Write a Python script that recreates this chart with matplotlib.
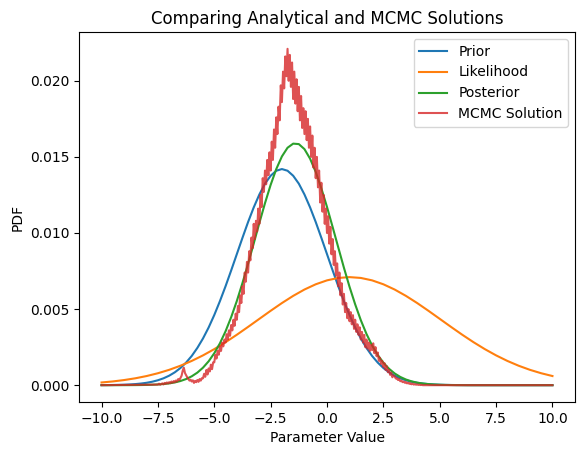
import numpy as np
import matplotlib.pyplot as plt

# analytical curves every 0.25 (prior, posterior) / 0.5 (likelihood)
x_fine = np.linspace(-10, 10, 81)
x_coarse = np.linspace(-10, 10, 41)

prior = [0.0000048, 0.0000078, 0.0000126, 0.0000199, 0.0000311, 0.0000477, 0.0000723,
         0.000108, 0.000158, 0.000228, 0.000324, 0.000453, 0.000624, 0.000846,
         0.00113, 0.001485, 0.00192, 0.00245, 0.00307, 0.00379, 0.00461, 0.00552,
         0.00650, 0.00754, 0.00861, 0.00968, 0.01072, 0.01168, 0.01253, 0.01324,
         0.01376, 0.01409, 0.0142,
         0.01409, 0.01376, 0.01324, 0.01253, 0.01168, 0.01072, 0.00968, 0.00861,
         0.00754, 0.00650, 0.00552, 0.00461, 0.00379, 0.00307, 0.00245, 0.00192,
         0.001485, 0.00113, 0.000846, 0.000624, 0.000453, 0.000324, 0.000228,
         0.000158, 0.000108, 0.0000723, 0.0000477, 0.0000311, 0.0000199, 0.0000126,
         0.0000078, 0.0000048,
         0.000003, 0.0000017, 0.000001, 0.0000005, 0.0, 0.0, 0.0, 0.0, 0.0, 0.0,
         0.0, 0.0, 0.0, 0.0, 0.0, 0.0]

likelihood = [0.000178, 0.000246, 0.000337, 0.000453, 0.000601, 0.000785, 0.001009,
              0.001278, 0.001594, 0.001958, 0.002369, 0.002823, 0.003313, 0.003830,
              0.004359, 0.004887, 0.005396, 0.005868, 0.006285, 0.006629, 0.006887,
              0.007046, 0.0071, 0.007046, 0.006887, 0.006629, 0.006285, 0.005868,
              0.005396, 0.004887, 0.004359, 0.003830, 0.003313, 0.002823, 0.002369,
              0.001958, 0.001594, 0.001278, 0.001009, 0.000785, 0.000601]

posterior = [0.0, 0.0000003, 0.0000006, 0.0000011, 0.0000019, 0.0000034, 0.000006,
             0.0000104, 0.0000176, 0.0000292, 0.0000475, 0.0000757, 0.000118,
             0.000182, 0.000273, 0.000403, 0.000583, 0.000826, 0.00115, 0.00157,
             0.00210, 0.00275, 0.00354, 0.00447, 0.00553, 0.00671, 0.00798, 0.00931,
             0.01066, 0.01196, 0.01316, 0.01420, 0.01503, 0.01560, 0.01587, 0.01584,
             0.01551, 0.01488, 0.01401, 0.01293, 0.01171, 0.01039, 0.00905, 0.00772,
             0.00646, 0.00531, 0.00427, 0.00337, 0.00261, 0.00198, 0.00148, 0.00108,
             0.000772, 0.000542, 0.000373, 0.000252, 0.000167, 0.000108, 0.000069,
             0.0000431, 0.0000264, 0.0000159, 0.0000094, 0.0000054, 0.0000031,
             0.0, 0.0, 0.0, 0.0, 0.0, 0.0, 0.0, 0.0, 0.0, 0.0, 0.0, 0.0, 0.0, 0.0,
             0.0, 0.0]

# MCMC line, every 0.05 from -7.5 to 4.3 (zero outside that)
mcmc_core_x = np.linspace(-7.5, 4.3, 237)
mcmc_core = [
    0.00004, 0.00010, 0.00003, 0.00008, 0.00012, 0.00005, 0.00015, 0.00009, 0.00018, 0.00011,
    0.00020, 0.00013, 0.00024, 0.00016, 0.00027, 0.00019, 0.00031, 0.00024, 0.00040, 0.00033,
    0.00048, 0.00062, 0.00095, 0.00115, 0.00080, 0.00066, 0.00052, 0.00041, 0.00030, 0.00036,
    0.00024, 0.00032, 0.00015, 0.00028, 0.00020, 0.00034, 0.00022, 0.00040, 0.00030, 0.00046,
    0.00045, 0.00075, 0.00055, 0.00100, 0.00070, 0.00110, 0.00090, 0.00135, 0.00105, 0.00150,
    0.00150, 0.00200, 0.00175, 0.00225, 0.00200, 0.00255, 0.00225, 0.00280, 0.00255, 0.00300,
    0.00280, 0.00335, 0.00300, 0.00360, 0.00325, 0.00395, 0.00360, 0.00430, 0.00390, 0.00470,
    0.00430, 0.00520, 0.00480, 0.00590, 0.00540, 0.00650, 0.00600, 0.00740, 0.00680, 0.00810,
    0.00740, 0.00880, 0.00820, 0.00970, 0.00900, 0.01060, 0.00960, 0.01080, 0.01010, 0.01160,
    0.01060, 0.01250, 0.01170, 0.01360, 0.01270, 0.01410, 0.01320, 0.01480, 0.01380, 0.01530,
    0.01410, 0.01600, 0.01480, 0.01680, 0.01560, 0.01760, 0.01650, 0.01830, 0.01740, 0.01970,
    0.01860, 0.02060, 0.01950, 0.02160, 0.02030, 0.02210, 0.02000, 0.02170, 0.01960, 0.02120,
    0.01880, 0.02060, 0.01850, 0.02010, 0.01800, 0.01960, 0.01740, 0.01900, 0.01690, 0.01820,
    0.01650, 0.01800, 0.01610, 0.01750, 0.01560, 0.01700, 0.01500, 0.01640, 0.01430, 0.01560,
    0.01360, 0.01500, 0.01300, 0.01410, 0.01200, 0.01330, 0.01140, 0.01250, 0.01060, 0.01160,
    0.01000, 0.01110, 0.00930, 0.01040, 0.00860, 0.00960, 0.00790, 0.00880, 0.00720, 0.00800,
    0.00650, 0.00740, 0.00590, 0.00670, 0.00530, 0.00600, 0.00480, 0.00540, 0.00440, 0.00500,
    0.00420, 0.00480, 0.00400, 0.00460, 0.00370, 0.00430, 0.00350, 0.00400, 0.00330, 0.00380,
    0.00300, 0.00350, 0.00280, 0.00330, 0.00250, 0.00300, 0.00240, 0.00280, 0.00225, 0.00265,
    0.00230, 0.00275, 0.00210, 0.00250, 0.00190, 0.00215, 0.00160, 0.00180, 0.00140, 0.00160,
    0.00120, 0.00145, 0.00100, 0.00125, 0.00085, 0.00100, 0.00068, 0.00082, 0.00052, 0.00064,
    0.00058, 0.00044, 0.00046, 0.00034, 0.00040, 0.00026, 0.00030, 0.00020, 0.00024, 0.00016,
    0.00020, 0.00012, 0.00016, 0.00009, 0.00013, 0.00006, 0.00010, 0.00004, 0.00007, 0.00003,
    0.00005, 0.00002, 0.00003, 0.00001, 0.00002, 0.0, 0.0]
mcmc_x = np.concatenate([[-10.0], mcmc_core_x, [10.0]])
mcmc = np.concatenate([[0.0], mcmc_core, [0.0]])

fig = plt.figure(figsize=(5.84, 4.55), dpi=100)
ax = fig.add_axes([79 / 584, (455 - 402) / 455, 496 / 584, 370 / 455])

ax.plot(x_fine, prior, label='Prior')
ax.plot(x_coarse, likelihood, label='Likelihood')
ax.plot(x_fine, posterior, label='Posterior')
ax.plot(mcmc_x, mcmc, label='MCMC Solution', alpha=0.8)

ax.set_title('Comparing Analytical and MCMC Solutions')
ax.set_xlabel('Parameter Value')
ax.set_ylabel('PDF')
ax.legend()

fig.savefig('out.png', dpi=100)
